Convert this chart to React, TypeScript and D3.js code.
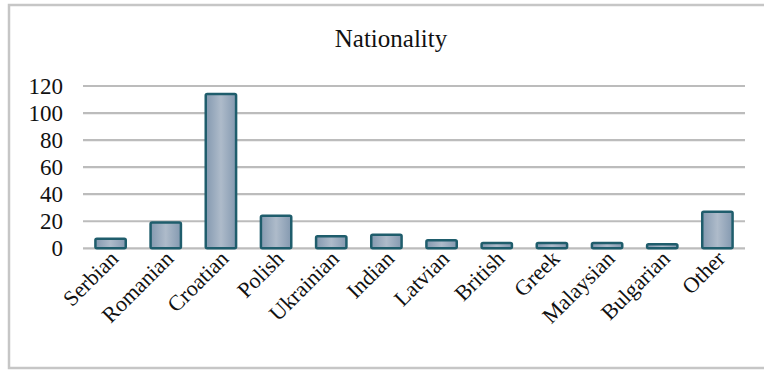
import React from "react";
import * as d3 from "d3";

const categories = ["Serbian", "Romanian", "Croatian", "Polish", "Ukrainian", "Indian", "Latvian", "British", "Greek", "Malaysian", "Bulgarian", "Other"];
const values = [7, 19, 114, 24, 9, 10, 6, 4, 4, 4, 3, 27];
const yTicks = [0, 20, 40, 60, 80, 100, 120];
const title = "Nationality";

const W = 764;
const H = 370;
const fontStyle = { fontFamily: '"Liberation Serif", "Times New Roman", Times, serif' };

export default function App() {
  const x = d3.scaleBand<string>().domain(categories).range([83, 745]).paddingInner(0.45).paddingOuter(0.225);
  const y = d3.scaleLinear().domain([0, 120]).range([248.3, 86]);
  return (
    <svg width={W} height={H} style={{ position: "absolute", left: 0, top: 0, background: "#fff" }}>
      <defs>
        <linearGradient id="barGrad" x1="0" x2="1" y1="0" y2="0">
          <stop offset="0%" stopColor="#8499b0" />
          <stop offset="50%" stopColor="#aebbca" />
          <stop offset="100%" stopColor="#8499b0" />
        </linearGradient>
      </defs>
      <rect x={9} y={5} width={W + 5} height={363} fill="#fff" stroke="#c6c6c6" strokeWidth={2.5} />
      <text x={391} y={47} textAnchor="middle" style={fontStyle} fontSize={25} fill="#111">{title}</text>
      {yTicks.map((t) => (
        <g key={t}>
          <line x1={83} x2={745} y1={y(t)} y2={y(t)} stroke="#bcbcbc" strokeWidth={2.2} />
          <text x={63} y={y(t)} dy="0.35em" textAnchor="end" style={fontStyle} fontSize={23} fill="#111">{t}</text>
        </g>
      ))}
      {categories.map((c, i) => (
        <rect key={c} x={x(c)!} y={y(values[i])} width={x.bandwidth()} height={y(0) - y(values[i])}
          fill="url(#barGrad)" stroke="#1f5d6c" strokeWidth={2.5} rx={1.5} />
      ))}
      {categories.map((c) => {
        const cx = x(c)! + x.bandwidth() / 2 + 9;
        const cy = 260;
        return (
          <text key={c} x={cx} y={cy} textAnchor="end" transform={`rotate(-45 ${cx} ${cy})`}
            style={fontStyle} fontSize={22} fill="#111">{c}</text>
        );
      })}
    </svg>
  );
}
